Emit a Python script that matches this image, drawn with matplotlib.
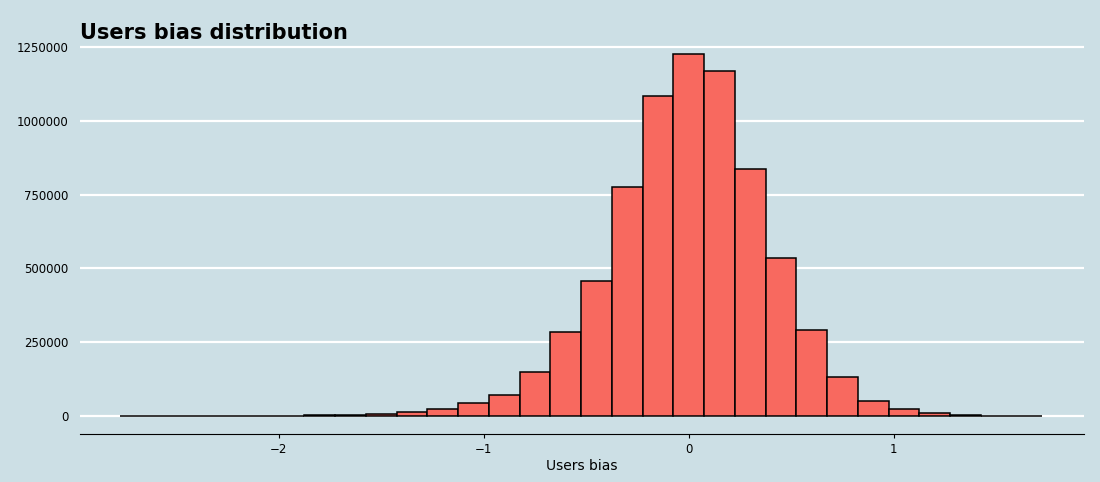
import matplotlib
matplotlib.use("Agg")
import matplotlib.pyplot as plt

bin_width = 0.15
centers = [k * bin_width for k in range(-18, 12)]
counts = [200, 400, 600, 800, 1000, 1500, 2000, 4000, 7000, 13000,
          24000, 44000, 71000, 149000, 285000, 457000, 776000, 1084000,
          1226000, 1169000, 837000, 535000, 291000, 132000, 51000,
          24000, 10000, 4000, 1500, 500]

bg = "#CCDFE5"
fig = plt.figure(figsize=(11, 4.82), dpi=100, facecolor=bg)
ax = fig.add_axes([0.0727, 0.0996, 0.913, 0.838], facecolor=bg)

ax.bar(centers, counts, width=bin_width, color="#F8695F",
       edgecolor="black", linewidth=1.1, zorder=3)

ax.set_xlim(-2.97, 1.93)
ax.set_ylim(-61000, 1307000)
ax.set_yticks([0, 250000, 500000, 750000, 1000000, 1250000])
ax.set_yticklabels(["0", "250000", "500000", "750000", "1000000", "1250000"])
ax.set_xticks([-2, -1, 0, 1])
ax.grid(axis="y", color="white", linewidth=1.6, zorder=0)
for s in ["top", "right", "left"]:
    ax.spines[s].set_visible(False)
ax.spines["bottom"].set_color("black")
ax.tick_params(axis="y", length=0, labelsize=8.5, pad=8)
ax.tick_params(axis="x", length=3, labelsize=8.5)
ax.set_xlabel("Users bias", fontsize=10, labelpad=2)
fig.text(0.0727, 0.92, "Users bias distribution", fontsize=15,
         fontweight="bold")

fig.savefig("out.png", dpi=100, facecolor=bg)
